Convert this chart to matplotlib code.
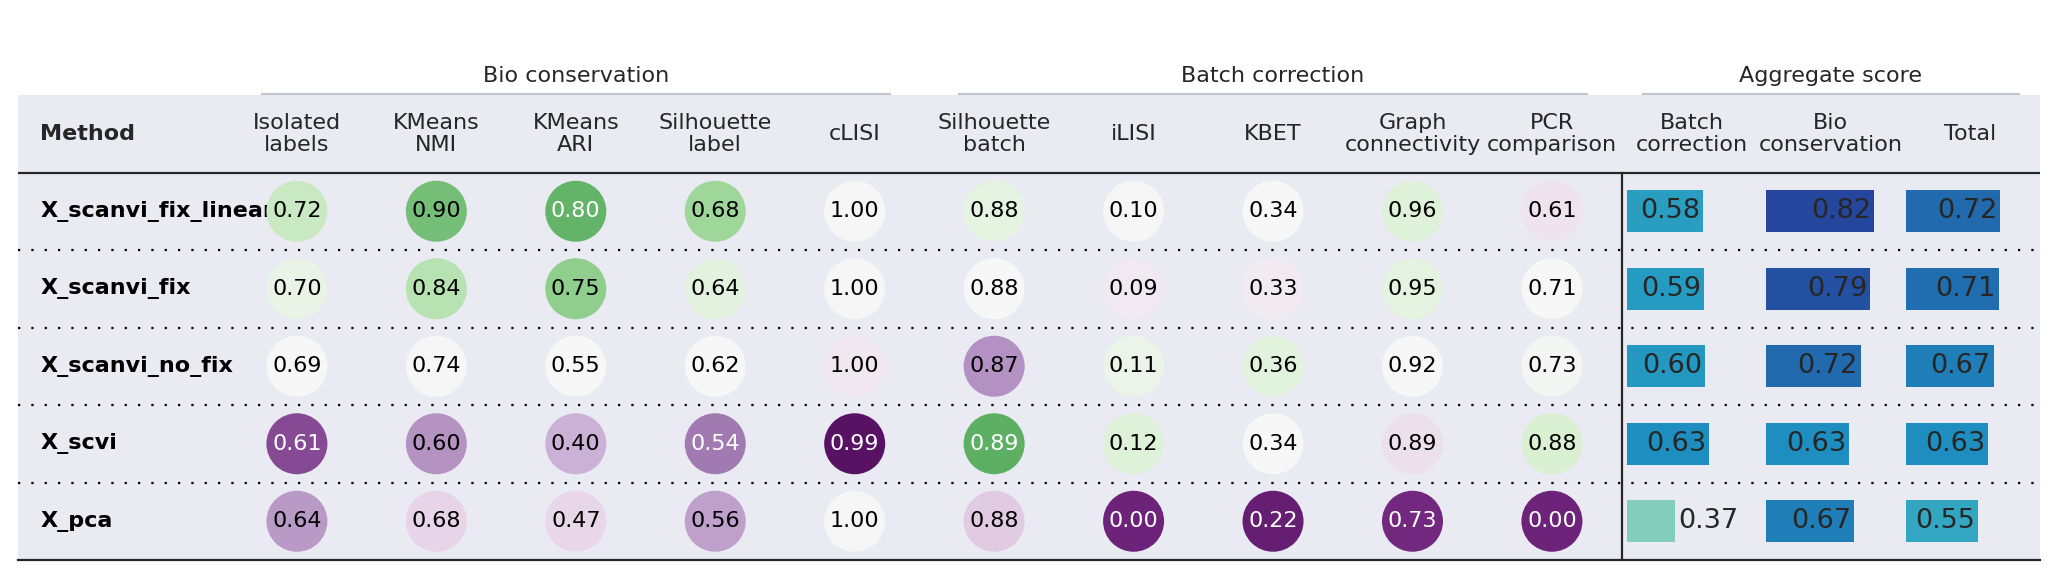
"""Benchmark results table: circles for single metrics, bars for aggregate scores."""

import numpy as np
import matplotlib
matplotlib.use("Agg")
import matplotlib.pyplot as plt
from matplotlib.patches import Ellipse, Rectangle

# ---- data ----
methods = ["X_scanvi_fix_linear", "X_scanvi_fix", "X_scanvi_no_fix", "X_scvi", "X_pca"]
metric_labels = ["Isolated\nlabels", "KMeans\nNMI", "KMeans\nARI", "Silhouette\nlabel", "cLISI",
                 "Silhouette\nbatch", "iLISI", "KBET", "Graph\nconnectivity", "PCR\ncomparison"]
isolated_labels = [0.72, 0.70, 0.69, 0.61, 0.64]
kmeans_nmi = [0.90, 0.84, 0.74, 0.60, 0.68]
kmeans_ari = [0.80, 0.75, 0.55, 0.40, 0.47]
silhouette_label = [0.68, 0.64, 0.62, 0.54, 0.56]
clisi = [1.000, 1.000, 0.999, 0.990, 1.000]
silhouette_batch = [0.882, 0.880, 0.872, 0.890, 0.876]
ilisi = [0.10, 0.09, 0.11, 0.12, 0.00]
kbet = [0.34, 0.33, 0.36, 0.34, 0.22]
graph_conn = [0.96, 0.95, 0.92, 0.89, 0.73]
pcr_comparison = [0.61, 0.71, 0.73, 0.88, 0.00]
metric_values = [isolated_labels, kmeans_nmi, kmeans_ari, silhouette_label, clisi,
                 silhouette_batch, ilisi, kbet, graph_conn, pcr_comparison]

agg_labels = ["Batch\ncorrection", "Bio\nconservation", "Total"]
agg_batch = [0.58, 0.59, 0.60, 0.63, 0.37]
agg_bio = [0.82, 0.79, 0.72, 0.63, 0.67]
agg_total = [0.72, 0.71, 0.67, 0.63, 0.55]
agg_values = [agg_batch, agg_bio, agg_total]

groups = [("Bio conservation", 0, 5), ("Batch correction", 5, 10), ("Aggregate score", 10, 13)]

# ---- layout (pixels of the 2060x579 canvas) ----
W, H = 2060, 579
TXT = "#262626"
BG = "#eaeaf2"
FS = 16
METHOD_W = 1.5
n_rows = len(methods)
n_cols = len(metric_labels) + len(agg_labels)
total_w = METHOD_W + n_cols

fig = plt.figure(figsize=(W / 100, H / 100), dpi=100)
ax = fig.add_axes([18 / W, 1 - 560 / H, (2040 - 18) / W, (560 - 95) / H])
ax.set_xlim(0, total_w)
ax.set_ylim(n_rows + 1, 0)
ax.axis("off")
ax.add_patch(Rectangle((0, 0), total_w, n_rows + 1, facecolor=BG, edgecolor="none", zorder=0))

px_x = (2040 - 18) / total_w   # pixels per column unit
px_y = (560 - 95) / (n_rows + 1)  # pixels per row


def normed_cmap(vals, cmap, num_stds=2.5):
    s = np.asarray(vals, dtype=float)
    med, std = np.median(s), s.std(ddof=1)
    norm = matplotlib.colors.Normalize(med - num_stds * std, med + num_stds * std)
    return lambda v: cmap(norm(v))


def font_color(rgba, thresh=150):
    r, g, b = [c * 255 for c in rgba[:3]]
    return "#000000" if r * 0.299 + g * 0.587 + b * 0.114 > thresh else "#ffffff"


# header
ax.text(0.16, 0.5, "Method", ha="left", va="center", fontsize=FS, fontweight="bold", color=TXT)
for j, lab in enumerate(metric_labels + agg_labels):
    ax.text(METHOD_W + j + 0.5, 0.5, lab, ha="center", va="center", fontsize=FS,
            color=TXT, linespacing=1.1)

for name, c0, c1 in groups:
    x0, x1 = METHOD_W + c0, METHOD_W + c1
    pad = 0.05 * (x1 - x0)
    ax.plot([x0 + pad, x1 - pad], [-0.01, -0.01], color="#c4c4cc", lw=1.5, clip_on=False, zorder=3)
    ax.text((x0 + x1) / 2, -0.245, name, ha="center", va="center", fontsize=FS, color=TXT,
            clip_on=False)

# rows
for i, m in enumerate(methods):
    ax.text(0.16, i + 1.5, m, ha="left", va="center", fontsize=FS, fontweight="bold",
            color="#000000", zorder=2)
    if i < n_rows - 1:
        ax.plot([0, total_w], [i + 2, i + 2], color="#000000", lw=1.6,
                linestyle=(0, (1, 5)), zorder=1)

# circles
d = 61  # circle diameter in px
for j, vals in enumerate(metric_values):
    cfn = normed_cmap(vals, matplotlib.cm.PRGn)
    xc = METHOD_W + j + 0.5
    for i, v in enumerate(vals):
        col = cfn(v)
        ax.add_patch(Ellipse((xc, i + 1.5), d / px_x, d / px_y, facecolor=col,
                             edgecolor="none", zorder=3))
        ax.text(xc, i + 1.5, f"{v:.2f}", ha="center", va="center", fontsize=FS,
                color=font_color(col), zorder=4)

# bars
for k, vals in enumerate(agg_values):
    x0 = METHOD_W + len(metric_labels) + k + 0.037
    for i, v in enumerate(vals):
        length = v * 0.94
        ax.add_patch(Rectangle((x0, i + 1.5 - 0.27), length, 0.54,
                               facecolor=matplotlib.cm.YlGnBu(v), edgecolor="none", zorder=3))
        if v >= 0.5:
            ax.text(x0 + length - 0.02, i + 1.5, f"{v:.2f}", ha="right", va="center",
                    fontsize=19.5, color=TXT, zorder=4)
        else:
            ax.text(x0 + length + 0.02, i + 1.5, f"{v:.2f}", ha="left", va="center",
                    fontsize=19.5, color=TXT, zorder=4)

# dividers
ax.plot([0, total_w], [1, 1], color=TXT, lw=1.6, zorder=5)
ax.plot([0, total_w], [n_rows + 1, n_rows + 1], color=TXT, lw=1.6, zorder=5, clip_on=False)
xb = METHOD_W + len(metric_labels)
ax.plot([xb, xb], [1, n_rows + 1], color=TXT, lw=1.6, zorder=5)

fig.savefig("out.png", dpi=100, facecolor="white")
